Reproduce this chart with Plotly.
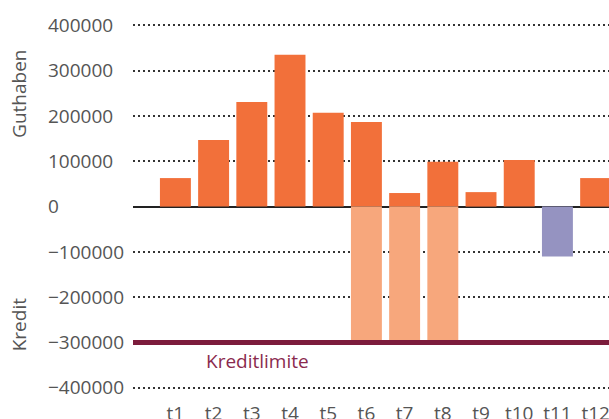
import plotly.graph_objects as go

categories = ["t1", "t2", "t3", "t4", "t5", "t6", "t7", "t8", "t9", "t10", "t11", "t12"]
guthaben = [63000, 147000, 231000, 335000, 207000, 187000, 30000, 99000, 32000, 103000, 0, 63000]
kredit_limit_used = [0, 0, 0, 0, 0, -300000, -300000, -300000, 0, 0, 0, 0]
kredit_other = [0, 0, 0, 0, 0, 0, 0, 0, 0, 0, -110000, 0]
kreditlimite = -300000
tick_vals = [400000, 300000, 200000, 100000, 0, -100000, -200000, -300000, -400000]
tick_text = ["400000\u2007", "300000\u2007", "200000\u2007", "100000\u2007",
             "0\u2007\u2007\u2007\u2007\u2007\u2007",
             "\u2212100000", "\u2212200000", "\u2212300000", "\u2212400000"]

FONT = "Open Sans"
GRAY = "#555555"
FS = 19

fig = go.Figure()
fig.add_trace(go.Bar(x=categories, y=guthaben, marker_color="#F2703A", marker_line_width=0))
fig.add_trace(go.Bar(x=categories, y=kredit_limit_used, marker_color="#F7A77C", marker_line_width=0))
fig.add_trace(go.Bar(x=categories, y=kredit_other, marker_color="#9593C1", marker_line_width=0))

fig.add_shape(type="line", xref="paper", x0=0, x1=1, yref="y", y0=kreditlimite, y1=kreditlimite,
              line=dict(color="#7C1C3C", width=5), layer="above")

fig.add_annotation(text="Kreditlimite", x=2.16, y=kreditlimite - 40600, xref="x", yref="y",
                   showarrow=False, font=dict(family=FONT, size=FS, color="#8A2A4E"))
fig.add_annotation(text="Guthaben", textangle=-90, xref="paper", x=(19 - 133) / 476, y=248800, yref="y",
                   xanchor="center", yanchor="middle",
                   showarrow=False, font=dict(family=FONT, size=FS, color=GRAY))
fig.add_annotation(text="Kredit", textangle=-90, xref="paper", x=(19 - 133) / 476, y=-262000, yref="y",
                   xanchor="center", yanchor="middle",
                   showarrow=False, font=dict(family=FONT, size=FS, color=GRAY))

fig.update_layout(
    width=609, height=419,
    margin=dict(l=133, r=0, t=15, b=19, autoexpand=False),
    barmode="relative", bargap=0.19,
    showlegend=False,
    plot_bgcolor="white", paper_bgcolor="white",
    font=dict(family=FONT, size=FS, color=GRAY),
)
fig.update_xaxes(range=[-1.11, 11.35], showgrid=False, showline=False, ticks="", automargin=False,
                 ticklabelstandoff=0, tickfont=dict(family=FONT, size=FS, color=GRAY))
fig.update_yaxes(range=[-426900, 423000], tickvals=tick_vals, ticktext=tick_text, automargin=False,
                 ticklabelstandoff=8,
                 showgrid=True, gridcolor="#333333", griddash="1.5px,3.5px", gridwidth=1.5,
                 zeroline=True, zerolinecolor="#222222", zerolinewidth=2,
                 showline=False, ticks="", tickfont=dict(family=FONT, size=FS, color=GRAY))

fig.write_html("out.html", config={"displayModeBar": False},
               post_script="document.body.style.margin='0';document.body.style.overflow='hidden';")
